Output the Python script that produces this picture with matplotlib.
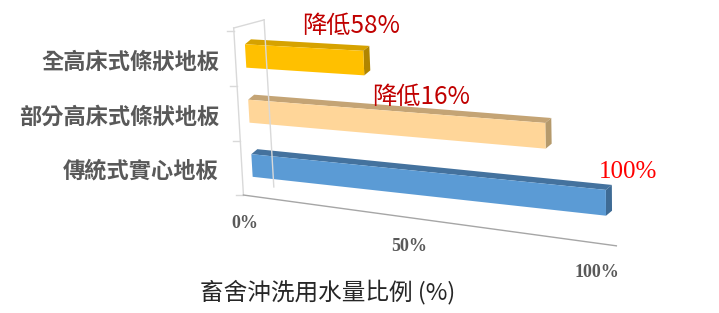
import numpy as np
import matplotlib
matplotlib.use('Agg')
import matplotlib.pyplot as plt
from matplotlib.patches import Polygon

plt.rcParams['font.family'] = ['Noto Sans CJK TC', 'DejaVu Sans']

# data (bottom row first)
categories = ['傳統式實心地板', '部分高床式條狀地板', '全高床式條狀地板']
values = [1.00, 0.85, 0.36]          # bar length as share of the conventional floor
notes = ['100%', '降低16%', '降低58%']
tick_values = [0.0, 0.5, 1.0]
tick_labels = ['0%', '50%', '100%']
x_title = '畜舍沖洗用水量比例 (%)'

# styles
front_colors = ['#5B9BD5', '#FFD699', '#FFC000']
top_colors = ['#44729E', '#C4A475', '#D6A200']
side_colors = ['#3E6B95', '#B59A6C', '#B08500']
note_colors = ['#FF0000', '#C00000', '#C00000']
note_offsets = [(22, -18), (-124, -26), (-12, -25)]
note_sizes = [18, 17.5, 17.5]
note_fonts = [['Liberation Serif'], ['Noto Sans CJK TC', 'DejaVu Sans'], ['Noto Sans CJK TC', 'DejaVu Sans']]

W, H = 719, 313
fig = plt.figure(figsize=(W / 100, H / 100), dpi=100)
ax = fig.add_axes([0, 0, 1, 1])
ax.set_xlim(0, W)
ax.set_ylim(H, 0)
ax.axis('off')

# camera: perspective plane (value u, row w) -> pixel, plus a depth offset
origin = np.array([252.0, 165.5])
vp_u, a = np.array([-2170.0, -90.0]), -0.1275
vp_w, b = np.array([650.0, 7000.0]), -0.007884
bar_depth = np.array([6.0, -5.0])
wall_depth = np.array([7.5, -2.0])
hh = 0.21                      # half bar height in row units
w_floor, w_top = -0.5, 2.55
d_front, d_back = -1.35, 2.7
u_max = 1.05
floor_drop = 7.0               # extra fall of the near floor edge toward the right


def proj(u, w, d=0.0, dvec=bar_depth):
    s = 1 + a * u + b * w
    p = (origin + a * u * vp_u + b * w * vp_w) / s
    return p + d * dvec


def wall(u, w, d):
    return proj(u, w, d, wall_depth)


def floor_edge(u):
    return wall(u, w_floor, d_front) + np.array([0, floor_drop * u])


# side wall edges and floor front edge
grid = '#D9D9D9'
for p, q in [(wall(0, w_floor, d_front), wall(0, w_top, d_front)),
             (wall(0, w_floor, d_back), wall(0, w_top, d_back)),
             (wall(0, w_top, d_front), wall(0, w_top, d_back))]:
    ax.plot([p[0], q[0]], [p[1], q[1]], color=grid, lw=1)
for w in [w_floor, 0.5, 1.5, 2.5]:
    p = wall(0, w, d_front)
    ax.plot([p[0] - 7, p[0]], [p[1], p[1]], color=grid, lw=1)
p, q = floor_edge(0), floor_edge(u_max)
ax.plot([p[0], q[0]], [p[1], q[1]], color='#A6A6A6', lw=1)

# bars
for i, v in enumerate(values):
    w0, w1 = i - hh, i + hh
    top = [proj(0, w1), proj(v, w1), proj(v, w1, 1), proj(0, w1, 1)]
    side = [proj(v, w0), proj(v, w1), proj(v, w1, 1), proj(v, w0, 1)]
    front = [proj(0, w0), proj(v, w0), proj(v, w1), proj(0, w1)]
    ax.add_patch(Polygon(top, closed=True, fc=top_colors[i], ec='none'))
    ax.add_patch(Polygon(side, closed=True, fc=side_colors[i], ec='none'))
    ax.add_patch(Polygon(front, closed=True, fc=front_colors[i], ec='none'))

    c = proj(0, i)
    ax.text(219, c[1] + 6, categories[i], ha='right', va='center', fontsize=16,
            fontweight='bold', color='#595959')

    e = proj(v, w1)
    dx, dy = note_offsets[i]
    ax.text(e[0] + dx, e[1] + dy, notes[i], ha='center', va='center',
            fontsize=note_sizes[i], color=note_colors[i], family=note_fonts[i])

# value axis labels
for u, lab in zip(tick_values, tick_labels):
    p = floor_edge(u)
    ax.text(p[0] + 1, p[1] + 28 + u, lab, ha='center', va='center', fontsize=13,
            fontweight='bold', color='#595959', family='Liberation Serif')

ax.text(328, 292, x_title, ha='center', va='center', fontsize=17, color='#262626')

fig.savefig('out.png', dpi=100)
